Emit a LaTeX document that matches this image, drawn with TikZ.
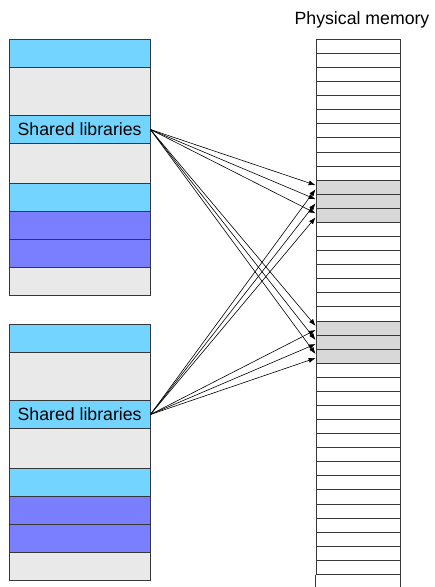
\documentclass[tikz,border=0pt]{standalone}
\usepackage{fontspec}
\setmainfont{Liberation Sans}
\usetikzlibrary{arrows.meta}
\definecolor{libblue}{RGB}{115,213,255}
\definecolor{seggray}{RGB}{233,233,233}
\definecolor{segpurple}{RGB}{122,127,255}
\definecolor{memgrey}{RGB}{216,216,216}
\definecolor{edgegray}{RGB}{55,55,55}
\begin{document}
\begin{tikzpicture}[x=1bp,y=-1bp,
  seg/.style={draw=edgegray, line width=0.8bp, inner sep=0pt, minimum width=140.7bp,
    font=\fontsize{17.7bp}{20bp}\selectfont},
  cell/.style={draw=edgegray, line width=0.8bp, inner sep=0pt, minimum width=84bp, minimum height=14.08bp},
  link/.style={line width=0.6bp, black, -{Latex[length=7bp,width=5bp]}}]
\useasboundingbox (0,0) rectangle (435,587);
% two address spaces
\foreach \off/\p in {0/a,285/b}{
  \foreach \t/\b/\c/\n in {39.3/67.3/libblue/1, 67.3/115.3/seggray/2, 143.7/183.3/seggray/4,
      183.3/211.3/libblue/5, 211.3/239.3/segpurple/6, 239.3/267.3/segpurple/7, 267.3/295.7/seggray/8}{
    \node[seg, fill=\c, minimum height={(\b-\t)*1bp}] (\p\n) at (79.65, {\off+(\t+\b)/2}) {};
  }
}
\node[seg, fill=libblue, minimum height=28.4bp] (sl1) at (79.65, 129.5) {Shared libraries};
\node[seg, fill=libblue, minimum height=28.4bp] (sl2) at (79.65, 414.5) {Shared libraries};
% physical memory
\node[font=\fontsize{17.7bp}{20bp}\selectfont, anchor=base, inner sep=0pt] (title) at (362,25) {Physical memory};
\foreach \k in {0,...,37}{
  \def\cc{white}
  \ifnum\k>9 \ifnum\k<13 \def\cc{memgrey}\fi\fi
  \ifnum\k>19 \ifnum\k<23 \def\cc{memgrey}\fi\fi
  \node[cell, fill=\cc] (m\k) at (358, {39.3+14.08*\k+7.04}) {};
}
\draw[edgegray, line width=0.8bp] (m37.south west) -- ++(0,13);
\draw[edgegray, line width=0.8bp] (m37.south east) -- ++(0,13);
% mappings
\foreach \k in {10,11,12,20,21,22}{
  \draw[link] (sl1.east) -- ([yshift=2bp]m\k.west);
  \draw[link] (sl2.east) -- ([yshift=-2bp]m\k.west);
}
\end{tikzpicture}
\end{document}
